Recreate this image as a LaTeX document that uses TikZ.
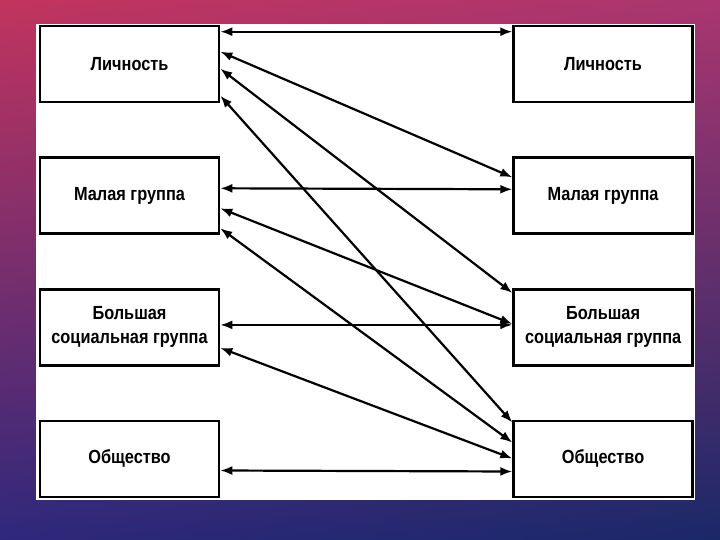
\documentclass[tikz,border=0pt]{standalone}
\usepackage{fontspec}
\setmainfont{Liberation Sans}
\newfontfamily\boxfont[FakeStretch=0.86]{Liberation Sans}
\usetikzlibrary{arrows.meta, positioning, shadings}

\definecolor{slideUL}{RGB}{194,52,94}
\definecolor{slideUR}{RGB}{170,54,112}
\definecolor{slideLL}{RGB}{46,40,124}
\definecolor{slideLR}{RGB}{26,40,104}

\begin{document}
\begin{tikzpicture}[x=1pt, y=1pt, >={Latex[length=12pt, width=9pt]},
    box/.style={draw, line width=2.6pt, minimum width=179pt, minimum height=76pt,
                inner sep=0pt, align=center,
                font=\boxfont\fontsize{19}{24}\selectfont\bfseries},
    link/.style={<->, line width=2.2pt}]
  % Slide background
  \shade[upper left=slideUL, upper right=slideUR,
         lower left=slideLL, lower right=slideLR] (0,0) rectangle (720,-540);
  \useasboundingbox (0,0) rectangle (720,-540);
  \fill[white] (36,-24) rectangle (695,-500);

  % Left column
  \node[box] (l1) at (129.5,-64) {Личность};
  \node[box, below=53pt of l1] (l2) {Малая группа};
  \node[box, below=53pt of l2] (l3) {Большая\\социальная группа};
  \node[box, below=53pt of l3] (l4) {Общество};

  % Right column
  \node[box, right=292pt of l1] (r1) {Личность};
  \node[box, right=292pt of l2] (r2) {Малая группа};
  \node[box, right=292pt of l3] (r3) {Большая\\социальная группа};
  \node[box, right=292pt of l4] (r4) {Общество};

  % Links: left box / offset / right box / offset
  \foreach \a/\sa/\b/\sb in {1/-7pt/1/-7pt, 1/-27pt/2/-21pt, 1/-44pt/3/-5pt,
      1/-71pt/4/-3pt, 2/-32pt/2/-33pt, 2/-52pt/3/-36pt, 2/-72pt/4/-23pt,
      3/-37pt/3/-37pt, 3/-60pt/4/-39pt, 4/-51pt/4/-52pt}
    \draw[link] ([yshift=\sa]l\a.north east) -- ([yshift=\sb]r\b.north west);
\end{tikzpicture}
\end{document}
